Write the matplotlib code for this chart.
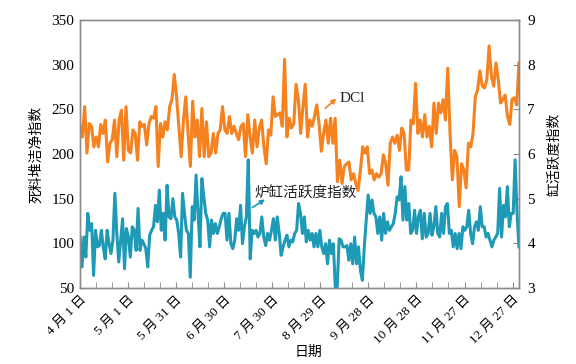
import numpy as np
import matplotlib
matplotlib.use("Agg")
import matplotlib.pyplot as plt

plt.rcParams['font.family'] = ['Liberation Serif', 'Noto Sans CJK SC']

# DCI (死料堆洁净指数), read left to right, 4月1日 .. 12月31日
dci = [231, 219, 253, 201, 234, 231, 208, 219, 208, 233, 223, 238, 191, 212, 216, 238,
       197, 238, 249, 193, 253, 204, 201, 227, 223, 193, 236, 231, 233, 210, 234, 242,
       240, 253, 186, 234, 219, 236, 227, 253, 261, 289, 264, 231, 197, 238, 264, 223,
       186, 259, 219, 238, 197, 251, 197, 236, 197, 201, 223, 201, 223, 227, 253, 227,
       223, 242, 223, 231, 223, 216, 231, 234, 197, 244, 219, 201, 238, 208, 229, 238,
       208, 189, 227, 221, 264, 242, 244, 246, 231, 306, 219, 240, 229, 234, 278, 261,
       223, 253, 278, 219, 238, 231, 242, 255, 234, 203, 223, 238, 212, 240, 212, 240,
       169, 193, 167, 186, 189, 191, 171, 178, 167, 159, 182, 208, 201, 208, 178, 182,
       171, 178, 174, 178, 199, 189, 165, 212, 219, 212, 221, 204, 229, 223, 182, 182,
       238, 234, 279, 223, 238, 219, 244, 219, 231, 208, 257, 223, 257, 246, 261, 238,
       296, 223, 171, 204, 197, 141, 189, 182, 162, 212, 208, 223, 264, 272, 293, 276,
       274, 283, 321, 287, 276, 302, 283, 257, 261, 266, 242, 233, 261, 263, 255, 302]

# 炉缸活跃度指数 (right axis)
activity = [4.14, 3.47, 4.14, 3.69, 4.67, 4.29, 4.44, 3.28, 4.29, 3.92, 3.95, 4.29, 3.92, 3.65,
            4.29, 3.99, 3.77, 4.07, 5.12, 4.22, 3.58, 4.07, 4.55, 3.43, 4.33, 4.14, 3.69, 4.37,
            4.29, 3.84, 4.78, 3.84, 4.07, 3.99, 3.88, 3.47, 4.18, 4.29, 4.37, 4.85, 4.48, 5.19,
            4.29, 4.67, 4.07, 5.30, 4.59, 4.55, 5.00, 4.59, 4.52, 4.22, 3.69, 5.12, 4.67, 4.29,
            4.22, 3.24, 4.82, 4.52, 5.53, 4.67, 3.92, 5.45, 5.04, 4.67, 4.52, 3.92, 4.52, 4.22,
            4.44, 4.22, 4.37, 4.55, 4.67, 4.67, 4.07, 4.67, 3.99, 3.88, 4.07, 4.55, 4.29, 4.85,
            3.99, 4.37, 4.59, 5.87, 3.65, 4.29, 4.22, 4.29, 4.14, 4.22, 4.59, 4.14, 3.95, 4.22,
            4.07, 4.29, 4.55, 4.07, 4.59, 4.22, 3.73, 3.92, 4.07, 4.18, 3.92, 4.07, 4.03, 4.22,
            4.29, 4.89, 4.67, 4.22, 4.59, 4.03, 4.29, 4.07, 4.22, 3.92, 4.22, 3.92, 4.29, 3.92,
            3.77, 3.99, 3.54, 4.07, 3.77, 3.99, 3.02, 3.02, 4.10, 4.07, 3.92, 3.92, 3.95, 3.62,
            3.99, 3.54, 4.14, 3.54, 3.92, 3.39, 3.17, 3.92, 4.52, 5.08, 4.67, 4.97, 4.67, 4.59,
            4.22, 4.59, 4.07, 4.67, 4.22, 4.48, 4.29, 4.37, 4.44, 4.67, 5.04, 4.97, 5.49, 4.52,
            5.27, 4.52, 4.89, 4.22, 4.29, 4.74, 4.22, 4.59, 4.74, 4.10, 4.67, 4.14, 4.22, 4.67,
            4.18, 4.37, 4.82, 4.22, 4.14, 4.67, 4.22, 4.82, 4.89, 4.22, 4.29, 3.92, 4.22, 3.88,
            4.22, 3.88, 4.37, 4.29, 4.37, 4.74, 4.22, 3.99, 4.37, 4.48, 4.29, 4.82, 4.37, 4.37,
            4.14, 4.22, 4.07, 3.92, 4.07, 4.14, 4.22, 5.23, 4.14, 4.85, 4.59, 5.27, 4.37, 4.67,
            4.67, 5.87, 4.67, 3.92]

n_days = 274
tick_days = [0, 30, 60, 90, 120, 150, 180, 210, 240, 270]
tick_labels = ['4 月 1 日', '5 月 1 日', '5 月 31 日', '6 月 30 日', '7 月 30 日',
               '8 月 29 日', '9 月 28 日', '10 月 28 日', '11 月 27 日', '12 月 27 日']

orange = '#F5821F'
teal = '#1F9AB6'
spine_c = '#8C8C8C'

fig = plt.figure(figsize=(5.76, 3.64), dpi=100)
ax = fig.add_axes([0.139, 0.209, 0.762, 0.736])
ax2 = ax.twinx()

x1 = np.linspace(0, n_days, len(dci))
x2 = np.linspace(0, n_days, len(activity))
ax.plot(x1, dci, color=orange, lw=2.2, solid_joinstyle='round')
ax2.plot(x2, activity, color=teal, lw=2.2, solid_joinstyle='round')

ax.set_xlim(0, n_days)
ax.set_ylim(50, 350)
ax2.set_ylim(3, 9)
ax.set_yticks(range(50, 351, 50))
ax2.set_yticks(range(3, 10))

ax.set_xticks(tick_days)
ax.set_xticklabels(tick_labels, rotation=45, ha='right', va='top',
                   rotation_mode='anchor', fontsize=9.5)
ax.set_xticks(range(0, n_days + 1, 10), minor=True)
ax.tick_params(axis='x', which='both', direction='in', length=4, color=spine_c, pad=4)
ax.tick_params(axis='y', length=0, labelsize=11, pad=4)
ax2.tick_params(axis='y', direction='in', length=4, color=spine_c, labelsize=11, pad=6)

for a in (ax, ax2):
    for s in a.spines.values():
        s.set_color(spine_c)
        s.set_linewidth(1.0)

ax.set_ylabel('死料堆洁净指数', fontsize=10, labelpad=6)
ax2.set_ylabel('缸活跃度指数', fontsize=10, labelpad=10)
fig.text(308 / 576, 1 - 352 / 364, '日期', fontsize=10, ha='center', va='center')

ax.text(162, 262, 'DCl', fontsize=11, va='center', color='#222222')
ax.annotate('', xy=(160, 262), xytext=(153, 251),
            arrowprops=dict(arrowstyle='-|>', color=orange, lw=1.2, mutation_scale=7,
                            shrinkA=0, shrinkB=0))
ax.text(109, 156, '炉缸活跃度指数', fontsize=10.5, va='center', color='#222222')
ax.annotate('', xy=(115.5, 149), xytext=(107.5, 140),
            arrowprops=dict(arrowstyle='-|>', color=teal, lw=1.2, mutation_scale=7,
                            shrinkA=0, shrinkB=0))

fig.savefig('out.png', dpi=100)
